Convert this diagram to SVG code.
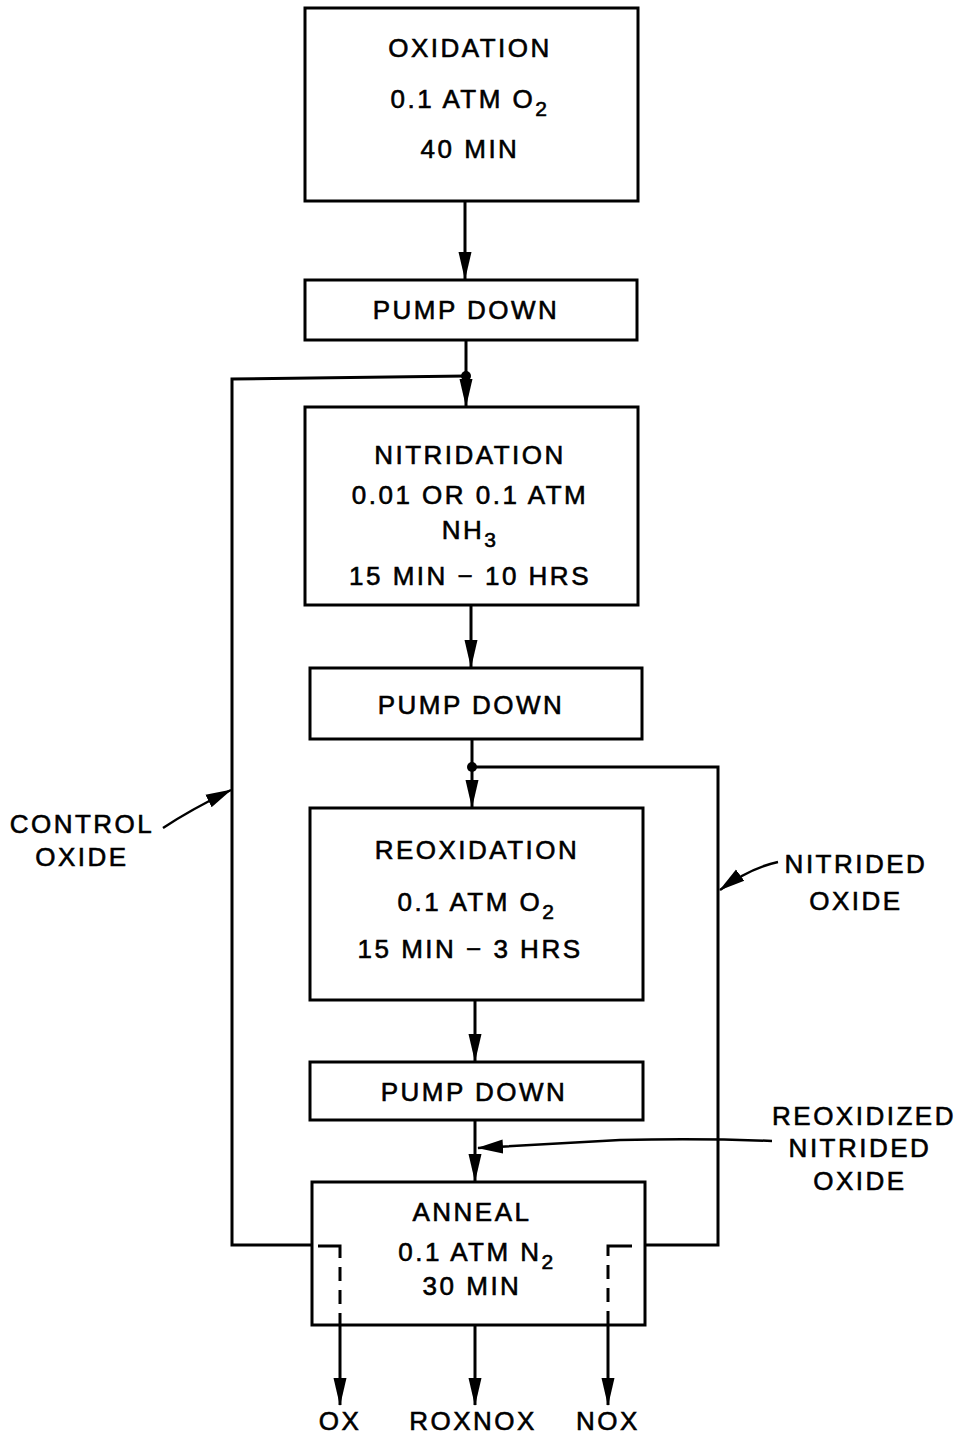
<svg xmlns="http://www.w3.org/2000/svg" width="959" height="1437" viewBox="0 0 959 1437">
<style>
.box{fill:#fff;stroke:#000;stroke-width:3}
.ln{fill:none;stroke:#000;stroke-width:3}
.dash{fill:none;stroke:#000;stroke-width:3;stroke-dasharray:34,9,14,9,14,9,14,9}
.lead{fill:none;stroke:#000;stroke-width:2.5}
text{font-family:"Liberation Sans","DejaVu Sans",sans-serif;font-size:26px;fill:#000;stroke:#000;stroke-width:0.6;text-anchor:middle;letter-spacing:2.5px}
.sub{font-size:21px}
</style>
<defs>
<marker id="ah" markerUnits="userSpaceOnUse" markerWidth="28" markerHeight="15" viewBox="0 0 28 15" refX="27" refY="7.5" orient="auto">
<path d="M0,1 L28,7.5 L0,14 Z" fill="#000"/>
</marker>
<marker id="ahs" markerUnits="userSpaceOnUse" markerWidth="26" markerHeight="16" viewBox="0 0 26 16" refX="25" refY="8" orient="auto">
<path d="M0,1 L26,8 L0,15 Z" fill="#000"/>
</marker>
</defs>
<rect width="959" height="1437" fill="#fff"/>
<g id="connectors">
<line class="ln" x1="465" y1="202" x2="465" y2="279" marker-end="url(#ah)"/>
<line class="ln" x1="466" y1="340" x2="466" y2="406" marker-end="url(#ah)"/>
<line class="ln" x1="471" y1="605" x2="471" y2="667" marker-end="url(#ah)"/>
<line class="ln" x1="472" y1="739" x2="472" y2="807" marker-end="url(#ah)"/>
<line class="ln" x1="475" y1="1000" x2="475" y2="1061" marker-end="url(#ah)"/>
<line class="ln" x1="475" y1="1120" x2="475" y2="1181" marker-end="url(#ah)"/>
<path class="ln" d="M466,376 L232,379 L232,1245 L312,1245"/>
<path class="ln" d="M472,767 L718,767 L718,1245 L645,1245"/>
<circle cx="466" cy="376" r="5" fill="#000"/>
<circle cx="472" cy="767" r="5" fill="#000"/>
<line class="ln" x1="340" y1="1325" x2="340" y2="1405" marker-end="url(#ah)"/>
<line class="ln" x1="475" y1="1325" x2="475" y2="1405" marker-end="url(#ah)"/>
<line class="ln" x1="608" y1="1325" x2="608" y2="1405" marker-end="url(#ah)"/>
<path class="lead" d="M163,828 Q190,810 231,790" marker-end="url(#ahs)"/>
<path class="lead" d="M778,862 Q750,868 720,890" marker-end="url(#ahs)"/>
<path class="lead" d="M772,1141 Q700,1138 620,1140 L478,1148" marker-end="url(#ahs)"/>
</g>
<g id="oxidation">
<rect class="box" x="305" y="8" width="333" height="193"/>
<text x="470" y="57">OXIDATION</text>
<text x="470" y="108">0.1 ATM O<tspan class="sub" dy="8">2</tspan></text>
<text x="470" y="158">40 MIN</text>
</g>
<g id="pump1">
<rect class="box" x="305" y="280" width="332" height="60"/>
<text x="466" y="319">PUMP DOWN</text>
</g>
<g id="nitridation">
<rect class="box" x="305" y="407" width="333" height="198"/>
<text x="470" y="464">NITRIDATION</text>
<text x="470" y="504">0.01 OR 0.1 ATM</text>
<text x="470" y="539">NH<tspan class="sub" dy="8">3</tspan></text>
<text x="470" y="585">15 MIN − 10 HRS</text>
</g>
<g id="pump2">
<rect class="box" x="310" y="668" width="332" height="71"/>
<text x="471" y="714">PUMP DOWN</text>
</g>
<g id="reoxidation">
<rect class="box" x="310" y="808" width="333" height="192"/>
<text x="477" y="859">REOXIDATION</text>
<text x="477" y="911">0.1 ATM O<tspan class="sub" dy="8">2</tspan></text>
<text x="470" y="958">15 MIN − 3 HRS</text>
</g>
<g id="pump3">
<rect class="box" x="310" y="1062" width="333" height="58"/>
<text x="474" y="1101">PUMP DOWN</text>
</g>
<g id="anneal">
<rect class="box" x="312" y="1182" width="333" height="143"/>
<path class="dash" d="M318,1246 L340,1246 L340,1325"/>
<path class="dash" d="M632,1246 L608,1246 L608,1325"/>
<text x="472" y="1221">ANNEAL</text>
<text x="477" y="1261">0.1 ATM N<tspan class="sub" dy="8">2</tspan></text>
<text x="472" y="1295">30 MIN</text>
</g>
<g id="labels">
<text x="82" y="833">CONTROL</text>
<text x="82" y="866">OXIDE</text>
<text x="856" y="873">NITRIDED</text>
<text x="856" y="910">OXIDE</text>
<text x="864" y="1125">REOXIDIZED</text>
<text x="860" y="1157">NITRIDED</text>
<text x="860" y="1190">OXIDE</text>
<text x="340" y="1430">OX</text>
<text x="473" y="1430">ROXNOX</text>
<text x="608" y="1430">NOX</text>
</g>
</svg>
